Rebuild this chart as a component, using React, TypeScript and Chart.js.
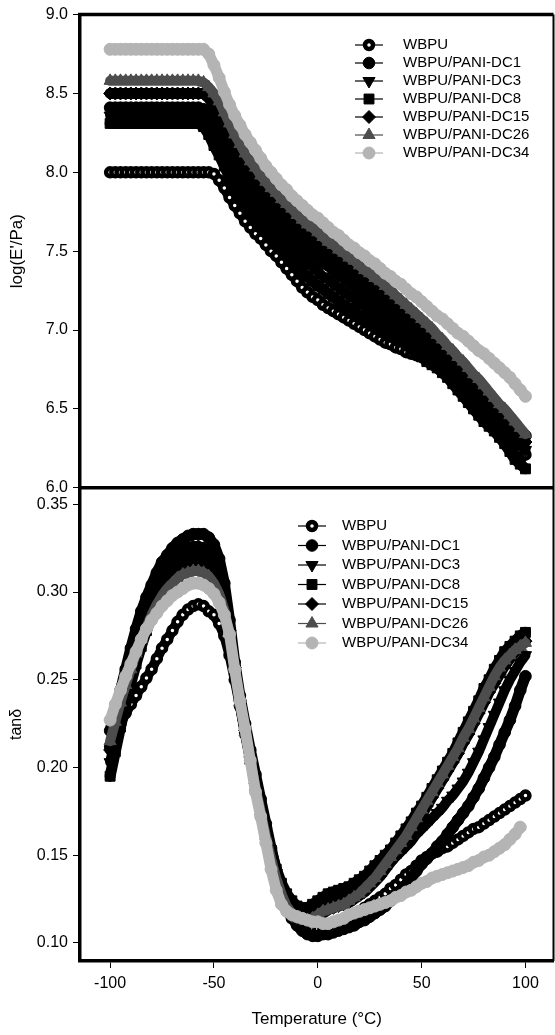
import { useEffect, useRef } from 'react';
import { Chart, registerables } from 'chart.js';

Chart.register(...registerables);

const FONT = '"Liberation Sans", Arial, Helvetica, sans-serif';

// Temperature (°C) of each measurement point
const TEMPS = [
  -100, -97.5, -95, -92.5, -90, -87.5, -85, -82.5, -80, -77.5,
  -75, -72.5, -70, -67.5, -65, -62.5, -60, -57.5, -55, -52.5,
  -50, -47.5, -45, -42.5, -40, -37.5, -35, -32.5, -30, -27.5,
  -25, -22.5, -20, -17.5, -15, -12.5, -10, -7.5, -5, -2.5,
  0, 2.5, 5, 7.5, 10, 12.5, 15, 17.5, 20, 22.5,
  25, 27.5, 30, 32.5, 35, 37.5, 40, 42.5, 45, 47.5,
  50, 52.5, 55, 57.5, 60, 62.5, 65, 67.5, 70, 72.5,
  75, 77.5, 80, 82.5, 85, 87.5, 90, 92.5, 95, 97.5,
  100,
];

const SERIES_NAMES = [
  'WBPU',
  'WBPU/PANI-DC1',
  'WBPU/PANI-DC3',
  'WBPU/PANI-DC8',
  'WBPU/PANI-DC15',
  'WBPU/PANI-DC26',
  'WBPU/PANI-DC34',
];

// log(E'/Pa)
const E_WBPU = [
  8.00, 8.00, 8.00, 8.00, 8.00, 8.00, 8.00, 8.00, 8.00, 8.00,
  8.00, 8.00, 8.00, 8.00, 8.00, 8.00, 8.00, 8.00, 8.00, 8.00,
  7.99, 7.95, 7.90, 7.84, 7.79, 7.74, 7.69, 7.65, 7.61, 7.58,
  7.54, 7.50, 7.47, 7.43, 7.39, 7.35, 7.31, 7.27, 7.24, 7.21,
  7.19, 7.16, 7.14, 7.12, 7.10, 7.08, 7.06, 7.04, 7.02, 7.00,
  6.98, 6.96, 6.94, 6.92, 6.91, 6.89, 6.88, 6.86, 6.85, 6.84,
  6.83, 6.83, 6.82, 6.80, 6.77, 6.75, 6.71, 6.67, 6.63, 6.59,
  6.55, 6.51, 6.48, 6.45, 6.41, 6.38, 6.35, 6.31, 6.27, 6.24,
  6.21,
];
const E_DC1 = [
  8.41, 8.41, 8.41, 8.41, 8.41, 8.41, 8.41, 8.41, 8.41, 8.41,
  8.41, 8.41, 8.41, 8.41, 8.41, 8.41, 8.41, 8.41, 8.40, 8.37,
  8.32, 8.27, 8.20, 8.13, 8.07, 8.01, 7.96, 7.91, 7.87, 7.83,
  7.79, 7.75, 7.72, 7.68, 7.65, 7.61, 7.58, 7.55, 7.52, 7.49,
  7.46, 7.43, 7.41, 7.38, 7.35, 7.33, 7.30, 7.28, 7.25, 7.23,
  7.20, 7.18, 7.15, 7.13, 7.10, 7.08, 7.05, 7.02, 6.99, 6.96,
  6.93, 6.90, 6.87, 6.84, 6.81, 6.78, 6.75, 6.72, 6.69, 6.66,
  6.63, 6.60, 6.57, 6.54, 6.51, 6.48, 6.45, 6.42, 6.39, 6.36,
  6.33,
];
const E_DC3 = [
  8.36, 8.36, 8.36, 8.36, 8.36, 8.36, 8.36, 8.36, 8.36, 8.36,
  8.36, 8.36, 8.36, 8.36, 8.36, 8.36, 8.36, 8.36, 8.35, 8.31,
  8.25, 8.19, 8.12, 8.05, 7.99, 7.93, 7.88, 7.83, 7.79, 7.75,
  7.71, 7.67, 7.64, 7.60, 7.56, 7.52, 7.49, 7.46, 7.43, 7.40,
  7.37, 7.34, 7.32, 7.29, 7.27, 7.24, 7.22, 7.20, 7.17, 7.15,
  7.12, 7.10, 7.08, 7.05, 7.03, 7.01, 6.98, 6.96, 6.93, 6.90,
  6.87, 6.84, 6.81, 6.78, 6.75, 6.72, 6.69, 6.65, 6.62, 6.58,
  6.55, 6.51, 6.48, 6.45, 6.42, 6.39, 6.36, 6.33, 6.30, 6.27,
  6.24,
];
const E_DC8 = [
  8.31, 8.31, 8.31, 8.31, 8.31, 8.31, 8.31, 8.31, 8.31, 8.31,
  8.31, 8.31, 8.31, 8.31, 8.31, 8.31, 8.31, 8.31, 8.29, 8.24,
  8.17, 8.11, 8.04, 7.97, 7.91, 7.85, 7.80, 7.75, 7.71, 7.67,
  7.63, 7.59, 7.56, 7.52, 7.48, 7.44, 7.41, 7.37, 7.34, 7.31,
  7.28, 7.26, 7.23, 7.21, 7.18, 7.16, 7.14, 7.12, 7.09, 7.07,
  7.05, 7.03, 7.01, 6.99, 6.97, 6.95, 6.93, 6.91, 6.88, 6.86,
  6.83, 6.80, 6.78, 6.76, 6.73, 6.70, 6.66, 6.62, 6.58, 6.54,
  6.50, 6.46, 6.42, 6.39, 6.36, 6.32, 6.28, 6.23, 6.18, 6.15,
  6.12,
];
const E_DC15 = [
  8.50, 8.50, 8.50, 8.50, 8.50, 8.50, 8.50, 8.50, 8.50, 8.50,
  8.50, 8.50, 8.50, 8.50, 8.50, 8.50, 8.50, 8.50, 8.50, 8.47,
  8.43, 8.37, 8.30, 8.23, 8.16, 8.10, 8.04, 7.99, 7.95, 7.91,
  7.87, 7.83, 7.80, 7.76, 7.73, 7.70, 7.66, 7.63, 7.60, 7.58,
  7.55, 7.52, 7.49, 7.46, 7.44, 7.41, 7.39, 7.36, 7.33, 7.31,
  7.28, 7.26, 7.23, 7.20, 7.18, 7.15, 7.12, 7.09, 7.06, 7.03,
  7.00, 6.97, 6.94, 6.90, 6.87, 6.83, 6.80, 6.76, 6.72, 6.69,
  6.65, 6.61, 6.57, 6.54, 6.50, 6.46, 6.43, 6.39, 6.35, 6.32,
  6.29,
];
const E_DC26 = [
  8.58, 8.58, 8.58, 8.58, 8.58, 8.58, 8.58, 8.58, 8.58, 8.58,
  8.58, 8.58, 8.58, 8.58, 8.58, 8.58, 8.58, 8.58, 8.57, 8.54,
  8.50, 8.45, 8.38, 8.31, 8.24, 8.18, 8.12, 8.07, 8.03, 7.98,
  7.94, 7.90, 7.87, 7.83, 7.80, 7.77, 7.73, 7.70, 7.67, 7.65,
  7.62, 7.59, 7.56, 7.54, 7.51, 7.49, 7.46, 7.44, 7.41, 7.38,
  7.36, 7.33, 7.31, 7.28, 7.25, 7.22, 7.19, 7.16, 7.13, 7.10,
  7.07, 7.04, 7.01, 6.97, 6.94, 6.90, 6.87, 6.83, 6.80, 6.76,
  6.72, 6.69, 6.65, 6.61, 6.57, 6.53, 6.50, 6.46, 6.42, 6.38,
  6.34,
];
const E_DC34 = [
  8.78, 8.78, 8.78, 8.78, 8.78, 8.78, 8.78, 8.78, 8.78, 8.78,
  8.78, 8.78, 8.78, 8.78, 8.78, 8.78, 8.78, 8.78, 8.78, 8.75,
  8.68, 8.60, 8.51, 8.43, 8.36, 8.30, 8.24, 8.19, 8.14, 8.09,
  8.04, 8.00, 7.96, 7.92, 7.89, 7.85, 7.82, 7.79, 7.76, 7.73,
  7.71, 7.68, 7.65, 7.62, 7.60, 7.57, 7.54, 7.52, 7.49, 7.47,
  7.44, 7.42, 7.39, 7.36, 7.34, 7.31, 7.29, 7.26, 7.23, 7.21,
  7.18, 7.15, 7.12, 7.09, 7.07, 7.04, 7.01, 6.98, 6.96, 6.93,
  6.90, 6.87, 6.85, 6.82, 6.79, 6.76, 6.73, 6.70, 6.66, 6.62,
  6.58,
];

// tan delta
const TAN_WBPU = [
  0.212, 0.219, 0.225, 0.231, 0.236, 0.241, 0.246, 0.251, 0.256, 0.262,
  0.268, 0.273, 0.278, 0.283, 0.287, 0.290, 0.292, 0.293, 0.292, 0.289,
  0.287, 0.282, 0.275, 0.264, 0.250, 0.235, 0.220, 0.205, 0.190, 0.176,
  0.162, 0.149, 0.137, 0.127, 0.119, 0.114, 0.111, 0.109, 0.108, 0.108,
  0.108, 0.109, 0.110, 0.111, 0.112, 0.113, 0.115, 0.116, 0.118, 0.120,
  0.122, 0.124, 0.126, 0.128, 0.131, 0.133, 0.136, 0.139, 0.141, 0.144,
  0.147, 0.149, 0.151, 0.152, 0.154, 0.155, 0.157, 0.159, 0.161, 0.163,
  0.165, 0.166, 0.168, 0.170, 0.172, 0.174, 0.176, 0.178, 0.180, 0.182,
  0.184,
];
const TAN_DC1 = [
  0.221, 0.233, 0.244, 0.256, 0.268, 0.279, 0.289, 0.297, 0.304, 0.311,
  0.317, 0.321, 0.325, 0.328, 0.330, 0.332, 0.333, 0.333, 0.333, 0.331,
  0.327, 0.319, 0.305, 0.284, 0.260, 0.241, 0.225, 0.210, 0.196, 0.182,
  0.168, 0.154, 0.141, 0.130, 0.121, 0.115, 0.110, 0.107, 0.105, 0.104,
  0.104, 0.105, 0.105, 0.106, 0.107, 0.108, 0.109, 0.110, 0.112, 0.113,
  0.115, 0.117, 0.119, 0.121, 0.124, 0.127, 0.130, 0.133, 0.137, 0.141,
  0.145, 0.148, 0.151, 0.155, 0.158, 0.162, 0.166, 0.170, 0.174, 0.178,
  0.183, 0.188, 0.194, 0.200, 0.206, 0.213, 0.220, 0.227, 0.235, 0.244,
  0.252,
];
const TAN_DC3 = [
  0.203, 0.216, 0.229, 0.241, 0.253, 0.264, 0.274, 0.283, 0.291, 0.298,
  0.304, 0.309, 0.313, 0.316, 0.319, 0.321, 0.322, 0.322, 0.321, 0.318,
  0.313, 0.305, 0.293, 0.276, 0.256, 0.237, 0.220, 0.205, 0.191, 0.177,
  0.164, 0.151, 0.140, 0.131, 0.125, 0.120, 0.117, 0.116, 0.116, 0.117,
  0.119, 0.121, 0.122, 0.123, 0.124, 0.125, 0.126, 0.128, 0.130, 0.132,
  0.134, 0.137, 0.140, 0.143, 0.146, 0.149, 0.152, 0.155, 0.158, 0.162,
  0.165, 0.168, 0.171, 0.174, 0.177, 0.181, 0.184, 0.188, 0.192, 0.197,
  0.203, 0.209, 0.216, 0.223, 0.230, 0.237, 0.244, 0.250, 0.255, 0.260,
  0.264,
];
const TAN_DC8 = [
  0.195, 0.209, 0.223, 0.236, 0.248, 0.259, 0.269, 0.278, 0.286, 0.293,
  0.299, 0.304, 0.308, 0.312, 0.315, 0.317, 0.318, 0.318, 0.317, 0.314,
  0.309, 0.302, 0.291, 0.275, 0.255, 0.237, 0.220, 0.205, 0.191, 0.178,
  0.165, 0.153, 0.142, 0.134, 0.128, 0.124, 0.121, 0.120, 0.120, 0.122,
  0.124, 0.126, 0.128, 0.129, 0.130, 0.131, 0.132, 0.134, 0.136, 0.138,
  0.141, 0.144, 0.147, 0.150, 0.153, 0.157, 0.161, 0.165, 0.169, 0.174,
  0.178, 0.183, 0.188, 0.193, 0.198, 0.203, 0.208, 0.214, 0.220, 0.226,
  0.232, 0.238, 0.245, 0.250, 0.256, 0.261, 0.266, 0.269, 0.272, 0.275,
  0.277,
];
const TAN_DC15 = [
  0.210, 0.223, 0.236, 0.248, 0.259, 0.270, 0.280, 0.288, 0.296, 0.302,
  0.308, 0.313, 0.317, 0.320, 0.323, 0.325, 0.326, 0.326, 0.325, 0.322,
  0.317, 0.309, 0.296, 0.278, 0.257, 0.238, 0.221, 0.206, 0.191, 0.177,
  0.163, 0.150, 0.139, 0.130, 0.123, 0.118, 0.115, 0.113, 0.112, 0.113,
  0.115, 0.117, 0.119, 0.120, 0.121, 0.122, 0.123, 0.125, 0.127, 0.129,
  0.132, 0.135, 0.138, 0.142, 0.146, 0.150, 0.154, 0.159, 0.163, 0.168,
  0.173, 0.178, 0.183, 0.188, 0.193, 0.198, 0.203, 0.208, 0.214, 0.219,
  0.225, 0.231, 0.237, 0.243, 0.248, 0.253, 0.258, 0.262, 0.266, 0.269,
  0.272,
];
const TAN_DC26 = [
  0.215, 0.226, 0.237, 0.247, 0.256, 0.265, 0.273, 0.280, 0.287, 0.293,
  0.298, 0.302, 0.305, 0.308, 0.310, 0.311, 0.312, 0.312, 0.311, 0.309,
  0.305, 0.299, 0.290, 0.276, 0.256, 0.237, 0.220, 0.204, 0.189, 0.175,
  0.161, 0.148, 0.137, 0.128, 0.121, 0.117, 0.114, 0.113, 0.113, 0.114,
  0.116, 0.118, 0.119, 0.120, 0.121, 0.122, 0.124, 0.126, 0.128, 0.131,
  0.134, 0.137, 0.141, 0.145, 0.149, 0.153, 0.157, 0.161, 0.166, 0.171,
  0.176, 0.181, 0.186, 0.191, 0.196, 0.201, 0.206, 0.211, 0.217, 0.222,
  0.228, 0.234, 0.240, 0.246, 0.252, 0.257, 0.261, 0.264, 0.267, 0.269,
  0.271,
];
const TAN_DC34 = [
  0.227, 0.236, 0.244, 0.252, 0.259, 0.266, 0.273, 0.279, 0.284, 0.288,
  0.292, 0.295, 0.298, 0.300, 0.302, 0.304, 0.305, 0.305, 0.304, 0.302,
  0.299, 0.294, 0.287, 0.276, 0.256, 0.238, 0.222, 0.204, 0.186, 0.172,
  0.157, 0.142, 0.130, 0.122, 0.118, 0.116, 0.115, 0.114, 0.113, 0.112,
  0.112, 0.111, 0.111, 0.112, 0.113, 0.114, 0.116, 0.117, 0.118, 0.119,
  0.120, 0.121, 0.122, 0.123, 0.124, 0.126, 0.127, 0.129, 0.130, 0.132,
  0.134, 0.135, 0.137, 0.138, 0.139, 0.140, 0.141, 0.142, 0.143, 0.144,
  0.146, 0.147, 0.149, 0.150, 0.152, 0.154, 0.156, 0.159, 0.162, 0.166,
  null,
];

const E_SERIES = [E_WBPU, E_DC1, E_DC3, E_DC8, E_DC15, E_DC26, E_DC34];
const TAN_SERIES = [TAN_WBPU, TAN_DC1, TAN_DC3, TAN_DC8, TAN_DC15, TAN_DC26, TAN_DC34];

const X_TICKS = [-100, -50, 0, 50, 100];
const E_TICKS = [6.0, 6.5, 7.0, 7.5, 8.0, 8.5, 9.0];
const TAN_TICKS = [0.10, 0.15, 0.20, 0.25, 0.30, 0.35];

// marker styles per series
const STYLES = [
  { shape: 'circle', rot: 0, r: 4, bg: '#ffffff', border: '#000000', bw: 4.5, line: '#000000', band: 10 },
  { shape: 'circle', rot: 0, r: 5.8, bg: '#000000', border: '#000000', bw: 1, line: '#000000', band: 11 },
  { shape: 'triangle', rot: 180, r: 7, bg: '#000000', border: '#000000', bw: 1, line: '#000000', band: 10 },
  { shape: 'rect', rot: 0, r: 7, bg: '#000000', border: '#000000', bw: 1, line: '#000000', band: 11 },
  { shape: 'rectRot', rot: 0, r: 6.5, bg: '#000000', border: '#000000', bw: 1, line: '#000000', band: 11 },
  { shape: 'triangle', rot: 0, r: 7, bg: '#4d4d4d', border: '#4d4d4d', bw: 1, line: '#4d4d4d', band: 10 },
  { shape: 'circle', rot: 0, r: 6, bg: '#b4b4b4', border: '#b4b4b4', bw: 1, line: '#b4b4b4', band: 11 },
];

const TARGET_RIGHT = 553;

function drawMarker(ctx: CanvasRenderingContext2D, st: any, x: number, y: number) {
  ctx.save();
  ctx.fillStyle = st.bg;
  ctx.strokeStyle = st.border;
  ctx.lineWidth = st.bw;
  ctx.beginPath();
  const r = st.r;
  if (st.shape === 'circle') {
    ctx.arc(x, y, r, 0, Math.PI * 2);
  } else if (st.shape === 'rect') {
    const s = Math.SQRT1_2 * r;
    ctx.rect(x - s, y - s, 2 * s, 2 * s);
  } else if (st.shape === 'rectRot') {
    ctx.moveTo(x, y - r);
    ctx.lineTo(x + r, y);
    ctx.lineTo(x, y + r);
    ctx.lineTo(x - r, y);
    ctx.closePath();
  } else if (st.shape === 'triangle') {
    const a0 = (st.rot * Math.PI) / 180 - Math.PI / 2;
    for (let k = 0; k < 3; k++) {
      const a = a0 + (k * 2 * Math.PI) / 3;
      const px = x + Math.cos(a) * r;
      const py = y + Math.sin(a) * r;
      if (k === 0) ctx.moveTo(px, py);
      else ctx.lineTo(px, py);
    }
    ctx.closePath();
  }
  ctx.fill();
  ctx.stroke();
  ctx.restore();
}

function drawLegend(ctx: CanvasRenderingContext2D, lx0: number, lx1: number, mx: number, tx: number, y0: number, dy: number) {
  ctx.save();
  ctx.font = '15px ' + FONT;
  ctx.textBaseline = 'middle';
  ctx.textAlign = 'left';
  SERIES_NAMES.forEach((name, i) => {
    const y = y0 + i * dy;
    const st = STYLES[i];
    ctx.strokeStyle = st.line;
    ctx.lineWidth = 1.2;
    ctx.beginPath();
    ctx.moveTo(lx0, y);
    ctx.lineTo(lx1, y);
    ctx.stroke();
    drawMarker(ctx, st, mx, y);
    ctx.fillStyle = '#000';
    ctx.fillText(name, tx, y);
  });
  ctx.restore();
}

const framePlugin = {
  id: 'frameAndLegends',
  afterDraw(chart: any) {
    const ctx = chart.ctx as CanvasRenderingContext2D;
    const a = chart.chartArea;
    const yE = chart.scales.yE;
    ctx.save();
    ctx.strokeStyle = '#000';
    ctx.lineWidth = 3.5;
    ctx.beginPath();
    ctx.moveTo(a.left - 2, a.top);
    ctx.lineTo(a.right, a.top);
    ctx.stroke();
    ctx.beginPath();
    ctx.moveTo(a.left - 2, yE.bottom);
    ctx.lineTo(a.right, yE.bottom);
    ctx.stroke();
    ctx.lineWidth = 2;
    ctx.beginPath();
    ctx.moveTo(a.right, a.top);
    ctx.lineTo(a.right, a.bottom);
    ctx.stroke();
    ctx.restore();
    drawLegend(ctx, 355, 383, 369, 403, 45, 18);
    drawLegend(ctx, 298, 326, 312, 342, 526, 19.5);
  },
};

function buildDatasets() {
  const ds: any[] = [];
  SERIES_NAMES.forEach((name, i) => {
    const st = STYLES[i];
    const common = {
      label: name,
      showLine: true,
      borderColor: st.line,
      borderWidth: st.band,
      borderCapStyle: 'round',
      borderJoinStyle: 'round',
      pointStyle: st.shape,
      pointRotation: st.rot,
      pointRadius: st.r,
      pointBackgroundColor: st.bg,
      pointBorderColor: st.border,
      pointBorderWidth: st.bw,
      order: 6 - i,
      clip: false,
    };
    ds.push({
      ...common,
      yAxisID: 'yE',
      data: TEMPS.map((t, k) => ({ x: t, y: E_SERIES[i][k] })),
    });
    ds.push({
      ...common,
      yAxisID: 'yT',
      data: TEMPS.map((t, k) => ({ x: t, y: TAN_SERIES[i][k] })),
    });
  });
  return ds;
}

function buildChart(canvas: HTMLCanvasElement) {
  const tickFont = { family: FONT, size: 16 };
  return new Chart(canvas, {
    type: 'scatter',
    data: { datasets: buildDatasets() },
    options: {
      animation: false,
      responsive: false,
      maintainAspectRatio: false,
      devicePixelRatio: 1,
      layout: { padding: { top: 14, right: 2, left: 0, bottom: 0 } },
      plugins: { legend: { display: false }, tooltip: { enabled: false } },
      scales: {
        x: {
          type: 'linear',
          position: 'bottom',
          min: -114.5,
          max: 113.5,
          afterBuildTicks: (s: any) => { s.ticks = X_TICKS.map((v) => ({ value: v })); },
          afterFit: (s: any) => { s.height = 74; s.paddingRight = 0; s.paddingLeft = 0; },
          grid: { display: true, drawOnChartArea: false, drawTicks: true, tickLength: 7, color: '#000', lineWidth: 1 },
          border: { display: true, color: '#000', width: 3.5 },
          ticks: { color: '#000', font: tickFont, padding: 6, maxRotation: 0, autoSkip: false, callback: (v: any) => String(v) },
          title: { display: true, text: 'Temperature (°C)', color: '#000', font: { family: FONT, size: 17 }, padding: { top: 2, bottom: 5 } },
        },
        yT: {
          type: 'linear',
          position: 'left',
          stack: 'panels',
          stackWeight: 1,
          min: 0.0897,
          max: 0.3594,
          afterBuildTicks: (s: any) => { s.ticks = TAN_TICKS.map((v) => ({ value: v })); },
          afterFit: (s: any) => { s.width = 80; },
          grid: { display: true, drawOnChartArea: false, drawTicks: true, tickLength: 7, color: '#000', lineWidth: 1 },
          border: { display: true, color: '#000', width: 3.5 },
          ticks: { color: '#000', font: tickFont, padding: 5, autoSkip: false, callback: (v: any) => Number(v).toFixed(2) },
          title: { display: true, text: 'tanδ', color: '#000', font: { family: FONT, size: 16 }, padding: { top: 7, bottom: 0 } },
        },
        yE: {
          type: 'linear',
          position: 'left',
          stack: 'panels',
          stackWeight: 1,
          min: 6,
          max: 9,
          afterBuildTicks: (s: any) => { s.ticks = E_TICKS.map((v) => ({ value: v })); },
          afterFit: (s: any) => { s.width = 80; },
          grid: { display: true, drawOnChartArea: false, drawTicks: true, tickLength: 7, color: '#000', lineWidth: 1 },
          border: { display: true, color: '#000', width: 3.5 },
          ticks: { color: '#000', font: tickFont, padding: 5, autoSkip: false, callback: (v: any) => Number(v).toFixed(1) },
          title: { display: true, text: "log(E'/Pa)", color: '#000', font: { family: FONT, size: 17 }, padding: { top: 7, bottom: 0 } },
        },
      },
    } as any,
    plugins: [framePlugin],
  } as any);
}

function sizeCanvas(canvas: HTMLCanvasElement, w: number) {
  canvas.width = w;
  canvas.height = 1035;
  canvas.style.width = w + 'px';
  canvas.style.height = '1035px';
}

export default function App() {
  const ref = useRef<HTMLCanvasElement>(null);
  useEffect(() => {
    const canvas = ref.current;
    if (!canvas) return;
    Chart.defaults.font.family = FONT;
    sizeCanvas(canvas, 555);
    let chart = buildChart(canvas);
    const deficit = TARGET_RIGHT - chart.chartArea.right;
    if (Math.abs(deficit) > 0.5) {
      chart.destroy();
      sizeCanvas(canvas, Math.round(555 + deficit));
      chart = buildChart(canvas);
    }
    return () => chart.destroy();
  }, []);
  return (
    <div style={{ position: 'absolute', left: 0, top: 0, width: 555, height: 1035, overflow: 'hidden' }}>
      <canvas ref={ref} width={555} height={1035} style={{ display: 'block', width: 555, height: 1035 }} />
    </div>
  );
}
